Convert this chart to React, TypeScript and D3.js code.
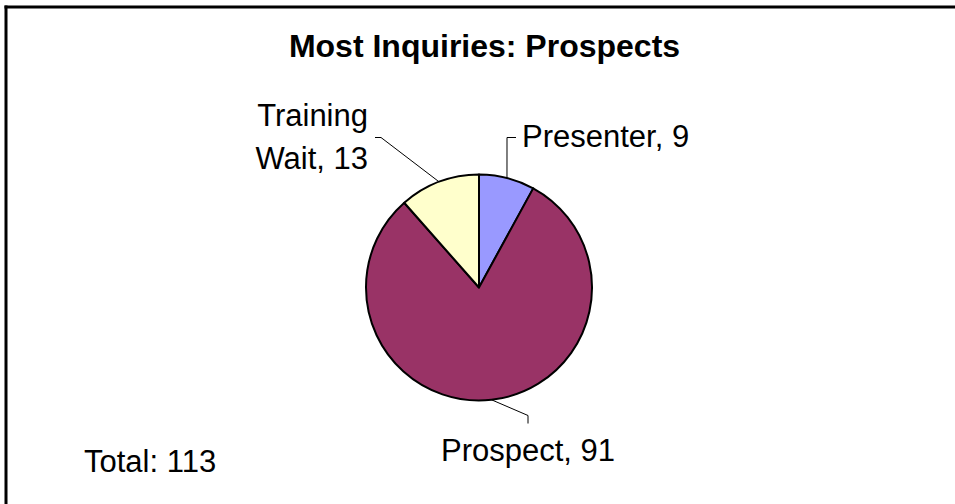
import React from "react";
import * as d3 from "d3";

// chart values
const categories = ["Presenter", "Prospect", "Training Wait"];
const counts = [9, 91, 13];
const sliceColors = ["#9999FF", "#993366", "#FFFFCC"];
const chartTitle = "Most Inquiries: Prospects";

const W = 955;
const H = 504;
const cx = 479;
const cy = 287.5;
const radius = 113;
const font = "'Liberation Sans', Arial, Helvetica, sans-serif";

// leader elbows and label placement (relative to the pie centre)
const labelLayout = [
  { elbow: [28, -150], end: [37, -150], tx: 43, ty: -141, anchor: "start", lines: ["Presenter, 9"] },
  { elbow: [49, 128], end: [49, 136], tx: 49, ty: 173, anchor: "middle", lines: ["Prospect, 91"] },
  { elbow: [-98, -150], end: [-104, -150], tx: -111, ty: -162, anchor: "end", lines: ["Training", "Wait, 13"] },
];

const App = () => {
  const total = d3.sum(counts);
  const pie = d3
    .pie<number>()
    .sort(null)
    .value((d) => d)
    .startAngle(0)
    .endAngle(2 * Math.PI);
  const arcs = pie(counts);
  const arc = d3.arc<d3.PieArcDatum<number>>().innerRadius(0).outerRadius(radius);

  return (
    <div style={{ position: "fixed", left: 0, top: 0, width: W, height: H, overflow: "hidden", background: "#fff" }}>
      <svg width={W} height={H} style={{ display: "block" }}>
        {/* chart frame: only the top and left edges fall inside the picture */}
        <line x1={6} y1={5.5} x2={6} y2={H} stroke="#000" strokeWidth={3} />
        <line x1={4.5} y1={7} x2={W} y2={7} stroke="#000" strokeWidth={3} />
        <text
          x={484.5}
          y={57}
          textAnchor="middle"
          fontFamily={font}
          fontWeight="bold"
          fontSize={32}
        >
          {chartTitle}
        </text>

        <g transform={`translate(${cx},${cy})`}>
          {arcs.map((a, i) => (
            <path key={categories[i]} d={arc(a) || ""} fill={sliceColors[i]} stroke="#000" strokeWidth={2} strokeLinejoin="round" />
          ))}
          {arcs.map((a, i) => {
            const mid = (a.startAngle + a.endAngle) / 2;
            const [px, py] = d3.pointRadial(mid, radius);
            const lay = labelLayout[i];
            const pts: [number, number][] = [[px, py], lay.elbow as [number, number], lay.end as [number, number]];
            return (
              <g key={"lab" + i}>
                <path d={d3.line()(pts) || ""} fill="none" stroke="#000" strokeWidth={1} />
                <text
                  x={lay.tx}
                  y={lay.ty}
                  textAnchor={lay.anchor as any}
                  fontFamily={font}
                  fontSize={31}
                >
                  {lay.lines.map((ln, j) => (
                    <tspan key={j} x={lay.tx} dy={j === 0 ? 0 : 43}>
                      {ln}
                    </tspan>
                  ))}
                </text>
              </g>
            );
          })}
        </g>

        <text x={84} y={472} fontFamily={font} fontSize={31}>
          {"Total: " + total}
        </text>
      </svg>
    </div>
  );
};

export default App;
